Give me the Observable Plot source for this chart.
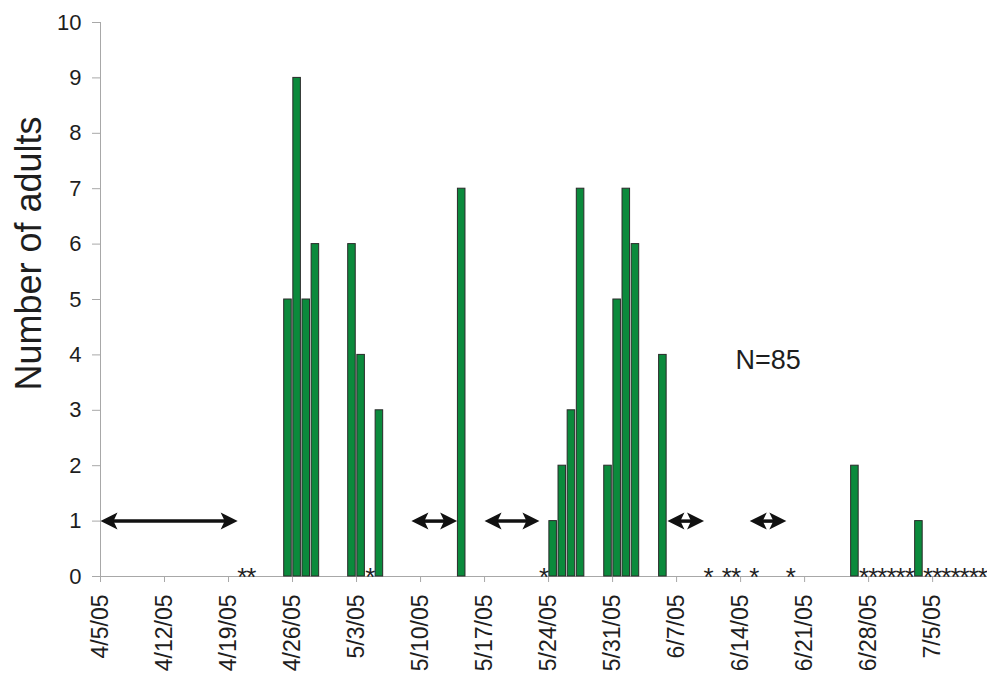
<!DOCTYPE html>
<html>
<head>
<meta charset="utf-8">
<script src="https://cdn.jsdelivr.net/npm/d3@7"></script>
<script src="https://cdn.jsdelivr.net/npm/@observablehq/plot@0.6"></script>
<style>
  html, body { margin: 0; padding: 0; background: #fff; }
</style>
</head>
<body>
<div id="chart"></div>
<script>
// ---- Data ----
const barDates = ["2005-04-25","2005-04-26","2005-04-27","2005-04-28","2005-05-02","2005-05-03","2005-05-05",
  "2005-05-14","2005-05-24","2005-05-25","2005-05-26","2005-05-27","2005-05-30","2005-05-31","2005-06-01",
  "2005-06-02","2005-06-05","2005-06-26","2005-07-03"];
const adultCounts = [5, 9, 5, 6, 6, 4, 3, 7, 1, 2, 3, 7, 2, 5, 7, 6, 4, 2, 1];

// sampling dates with zero adults (asterisks)
const zeroDates = ["2005-04-20","2005-04-21","2005-05-04","2005-05-23","2005-06-10","2005-06-12","2005-06-13",
  "2005-06-15","2005-06-19","2005-06-27","2005-06-28","2005-06-29","2005-06-30","2005-07-01","2005-07-02",
  "2005-07-04","2005-07-05","2005-07-06","2005-07-07","2005-07-08","2005-07-09","2005-07-10"];

// double-headed arrows (periods)
const arrowStarts = ["2005-04-05","2005-05-09","2005-05-17","2005-06-06","2005-06-15"];
const arrowEnds   = ["2005-04-20","2005-05-14","2005-05-23","2005-06-10","2005-06-19"];
const arrowLevel = 1;

const xTickLabels = ["4/5/05","4/12/05","4/19/05","4/26/05","5/3/05","5/10/05","5/17/05","5/24/05",
  "5/31/05","6/7/05","6/14/05","6/21/05","6/28/05","7/5/05"];
const yTicks = [0, 1, 2, 3, 4, 5, 6, 7, 8, 9, 10];
const xDomain = ["2005-04-05", "2005-07-11"];
const yDomain = [0, 10];
const noteDate = "2005-06-17";
const noteValue = 3.9;
const yTitle = "Number of adults";

// ---- Build tables ----
const parseISO = d3.utcParse("%Y-%m-%d");
const parseTick = d3.utcParse("%m/%d/%y");
const DAY = 864e5;

const bars = barDates.map((d, i) => ({date: parseISO(d), count: adultCounts[i]}));
const zeros = zeroDates.map(parseISO);
const arrows = arrowStarts.map((s, i) => ({start: parseISO(s), end: parseISO(arrowEnds[i])}));
const tickDates = xTickLabels.map(parseTick);
const note = [{date: parseISO(noteDate), value: noteValue, label: `N=${d3.sum(adultCounts)}`}];

const headLeft = {
  draw(ctx) { ctx.moveTo(0, 0); ctx.lineTo(17, -8.5); ctx.lineTo(13, 0); ctx.lineTo(17, 8.5); ctx.closePath(); }
};
const headRight = {
  draw(ctx) { ctx.moveTo(0, 0); ctx.lineTo(-17, -8.5); ctx.lineTo(-13, 0); ctx.lineTo(-17, 8.5); ctx.closePath(); }
};

const fmt = d3.utcFormat("%-m/%-d/%y");
const axisGray = "#a8a8a8";
const ink = "#1e1e1e";

const chart = Plot.plot({
  width: 987,
  height: 679,
  marginLeft: 100,
  marginRight: 0,
  marginTop: 22,
  marginBottom: 103,
  style: {fontFamily: "'Liberation Sans', Arial, sans-serif", background: "#fff", color: ink},
  x: {type: "utc", domain: xDomain.map(parseISO)},
  y: {domain: yDomain},
  marks: [
    Plot.ruleX([parseISO(xDomain[0])], {stroke: axisGray, y1: yDomain[0], y2: yDomain[1]}),
    Plot.ruleY([0], {stroke: axisGray}),
    Plot.axisY({ticks: yTicks, tickSize: 8, tickPadding: 11, fontSize: 22, stroke: axisGray, color: ink,
      label: null, tickFormat: d => String(d)}),
    Plot.axisX({ticks: tickDates, tickSize: 6, tickPadding: 12, tickRotate: -90, fontSize: 23,
      stroke: axisGray, color: ink, label: null, tickFormat: fmt}),
    Plot.rectY(bars, {x1: "date", x2: d => new Date(+d.date + DAY), y: "count",
      fill: "#0b8a3c", stroke: "#2a2a2a", strokeWidth: 1, insetLeft: 0.8, insetRight: 0.8}),
    Plot.text(zeros, {x: d => new Date(+d + DAY / 2), y: 0, text: () => "*", fontSize: 26,
      lineAnchor: "top", dy: -9, fill: ink}),
    Plot.ruleY(arrows, {x1: "start", x2: "end", y: () => arrowLevel, stroke: "#111", strokeWidth: 3.5,
      insetLeft: 10, insetRight: 10}),
    Plot.dot(arrows, {x: "start", y: () => arrowLevel, symbol: headLeft, r: 8, fill: "#111", stroke: "none"}),
    Plot.dot(arrows, {x: "end", y: () => arrowLevel, symbol: headRight, r: 8, fill: "#111", stroke: "none"}),
    Plot.text(note, {x: "date", y: "value", text: "label", fontSize: 27, fill: ink}),
    Plot.text([yTitle], {frameAnchor: "left", textAnchor: "middle", rotate: -90, dx: -71, dy: -46,
      fontSize: 36, fill: ink})
  ]
});

document.getElementById("chart").append(chart);
</script>
</body>
</html>
